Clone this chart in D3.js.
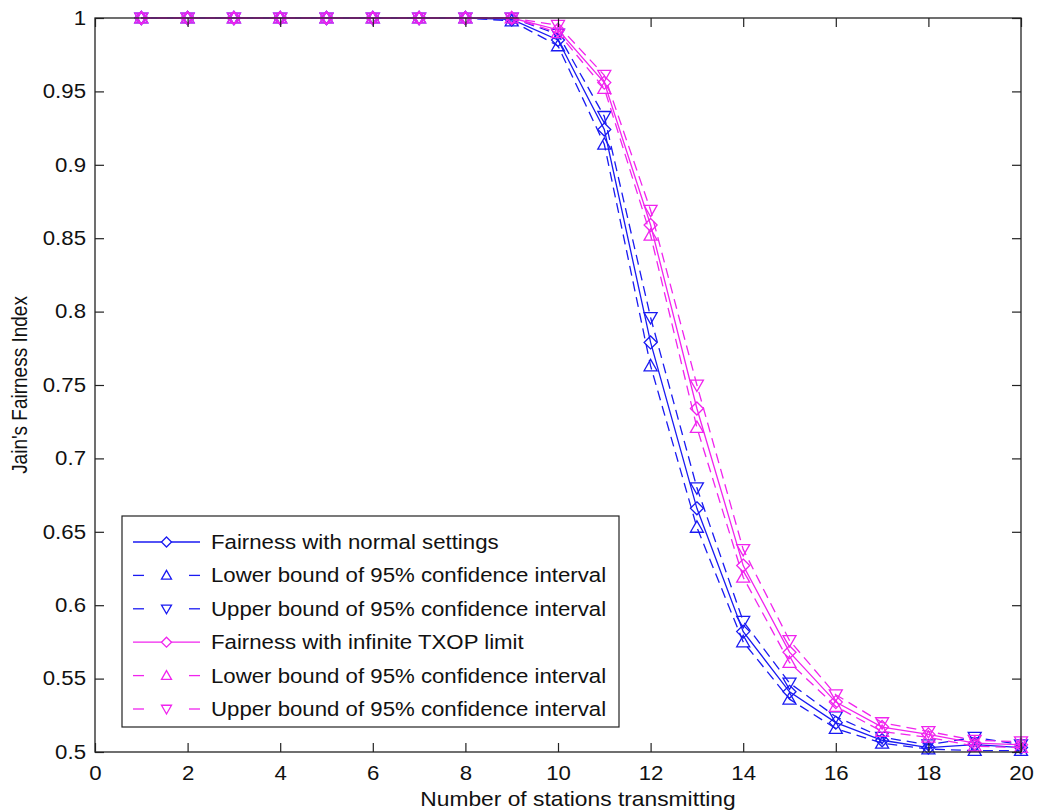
<!DOCTYPE html>
<html><head><meta charset="utf-8">
<script src="https://cdn.jsdelivr.net/npm/d3@7"></script>
<style>body{margin:0;background:#fff}svg{display:block}text{font-family:"Liberation Sans",Arial,sans-serif;fill:#111}</style>
</head><body><svg id="c" width="1039" height="812"></svg>
<script>
const stations = [1,2,3,4,5,6,7,8,9,10,11,12,13,14,15,16,17,18,19,20];
const normalMean  = [1,1,1,1,1,1,1,1,0.999,0.985,0.924,0.779,0.666,0.582,0.541,0.520,0.508,0.503,0.505,0.503];
const normalLower = [1,1,1,1,1,1,1,1,0.998,0.981,0.914,0.763,0.653,0.575,0.536,0.516,0.506,0.502,0.501,0.501];
const normalUpper = [1,1,1,1,1,1,1,1,1.000,0.989,0.933,0.796,0.680,0.589,0.547,0.524,0.510,0.505,0.510,0.505];
const txopMean  = [1,1,1,1,1,1,1,1,1,0.992,0.956,0.859,0.734,0.627,0.568,0.534,0.517,0.512,0.506,0.505];
const txopLower = [1,1,1,1,1,1,1,1,1,0.990,0.952,0.852,0.721,0.619,0.561,0.531,0.514,0.510,0.504,0.503];
const txopUpper = [1,1,1,1,1,1,1,1,1,0.995,0.961,0.869,0.750,0.638,0.576,0.539,0.520,0.514,0.508,0.507];
const xTicks = [0,2,4,6,8,10,12,14,16,18,20];
const yTicks = [0.5,0.55,0.6,0.65,0.7,0.75,0.8,0.85,0.9,0.95,1];
const legendLabels = ["Fairness with normal settings","Lower bound of 95% confidence interval","Upper bound of 95% confidence interval","Fairness with infinite TXOP limit","Lower bound of 95% confidence interval","Upper bound of 95% confidence interval"];

const BLUE="#1a1af2", MAG="#f024ee";
const series = [
  {v:normalMean, c:BLUE, dash:null, m:"diamond"},
  {v:normalLower, c:BLUE, dash:"10,6", m:"up"},
  {v:normalUpper, c:BLUE, dash:"10,6", m:"down"},
  {v:txopMean, c:MAG, dash:null, m:"diamond"},
  {v:txopLower, c:MAG, dash:"10,6", m:"up"},
  {v:txopUpper, c:MAG, dash:"10,6", m:"down"}
];

const SX=1.14;
const L=95,R=1021,T=18,B=752;
const svg=d3.select("#c");
const x=d3.scaleLinear().domain([0,20]).range([L,R]);
const y=d3.scaleLinear().domain([0.5,1]).range([B,T]);

function marker(type,s){
  const h=s/2;
  if(type==="diamond") return `M0,${-h}L${h},0L0,${h}L${-h},0Z`;
  if(type==="up") return `M0,${-h}L${h},${h*0.75}L${-h},${h*0.75}Z`;
  return `M0,${h}L${h},${-h*0.75}L${-h},${-h*0.75}Z`;
}

const line=d3.line().x((d,i)=>x(stations[i])).y(d=>y(d));
const plot=svg.append("g");
series.forEach(s=>{
  plot.append("path").attr("d",line(s.v)).attr("fill","none").attr("stroke",s.c)
    .attr("stroke-width",1.3).attr("stroke-dasharray",s.dash);
  plot.selectAll(null).data(s.v).enter().append("path")
    .attr("transform",(d,i)=>`translate(${x(stations[i])},${y(d)})`)
    .attr("d",marker(s.m,13)).attr("fill","none").attr("stroke",s.c).attr("stroke-width",1.3);
});

const tk=9;
const gx=svg.append("g").attr("transform",`translate(0,${B})`)
  .call(d3.axisBottom(x).tickValues(xTicks).tickSize(-tk).tickPadding(14).tickFormat(d3.format("d")));
const gxt=svg.append("g").attr("transform",`translate(0,${T})`)
  .call(d3.axisTop(x).tickValues(xTicks).tickSize(-tk).tickFormat(""));
const gy=svg.append("g").attr("transform",`translate(${L},0)`)
  .call(d3.axisLeft(y).tickValues(yTicks).tickSize(-tk).tickPadding(19).tickFormat(d=>String(+d.toFixed(2))));
const gyr=svg.append("g").attr("transform",`translate(${R},0)`)
  .call(d3.axisRight(y).tickValues(yTicks).tickSize(-tk).tickFormat(""));
[gx,gxt,gy,gyr].forEach(g=>{
  g.select(".domain").remove();
  g.selectAll("line").attr("stroke","#222").attr("stroke-width",1.2);
  g.selectAll("text").attr("font-size",19.5).attr("fill","#111").style("font-family",'"Liberation Sans",Arial,sans-serif');
});
gy.selectAll(".tick text").attr("x",0).attr("transform",`translate(-9,0) scale(${SX},1)`);
gx.selectAll(".tick text").attr("y",0).attr("transform",`translate(0,14) scale(${SX},1)`);
svg.append("rect").attr("x",L).attr("y",T).attr("width",R-L).attr("height",B-T)
  .attr("fill","none").attr("stroke","#222").attr("stroke-width",1.3);

svg.append("text").attr("transform",`translate(${(L+R)/2 + 20},806) scale(${SX},1)`).attr("text-anchor","middle").attr("font-size",20).text("Number of stations transmitting");
svg.append("text").attr("transform",`translate(27,${(T+B)/2}) rotate(-90) scale(1,${SX})`).attr("text-anchor","middle").attr("font-size",19).text("Jain's Fairness Index");

const lg=svg.append("g");
lg.append("rect").attr("x",122).attr("y",516).attr("width",497).attr("height",211).attr("fill","#fff").attr("stroke","#222").attr("stroke-width",1.2);
series.forEach((s,i)=>{
  const cy=542+i*33.4;
  if(s.dash){
    lg.append("line").attr("x1",133).attr("x2",144).attr("y1",cy).attr("y2",cy).attr("stroke",s.c).attr("stroke-width",1.3);
    lg.append("line").attr("x1",189).attr("x2",200).attr("y1",cy).attr("y2",cy).attr("stroke",s.c).attr("stroke-width",1.3);
  } else {
    lg.append("line").attr("x1",133).attr("x2",200).attr("y1",cy).attr("y2",cy).attr("stroke",s.c).attr("stroke-width",1.3);
  }
  lg.append("path").attr("transform",`translate(166.5,${cy})`).attr("d",marker(s.m,10)).attr("fill","#fff").attr("stroke",s.c).attr("stroke-width",1.3);
  lg.append("text").attr("transform",`translate(211,${cy+7}) scale(${SX},1)`).attr("font-size",19.5).text(legendLabels[i]);
});
</script></body></html>
